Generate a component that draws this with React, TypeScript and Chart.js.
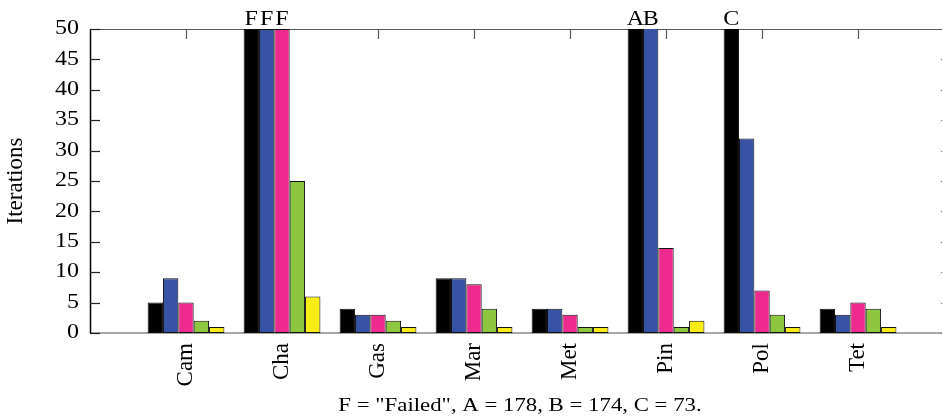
import React, { useEffect, useRef } from 'react';
import { Chart, registerables } from 'chart.js';

Chart.register(...registerables);

const categories = ['Cam', 'Cha', 'Gas', 'Mar', 'Met', 'Pin', 'Pol', 'Tet'];
const yTickValues = [0, 5, 10, 15, 20, 25, 30, 35, 40, 45, 50];

// 50 = "Failed" (drawn to the top of the axis and marked F)
const seriesBlack = [5, 50, 4, 9, 4, 178, 73, 4];
const seriesBlue = [9, 50, 3, 9, 4, 174, 32, 3];
const seriesPink = [5, 50, 3, 8, 3, 14, 7, 5];
const seriesGreen = [2, 25, 2, 4, 1, 1, 3, 4];
const seriesYellow = [1, 6, 1, 1, 1, 2, 1, 1];

const noteBlack = ['', 'F', '', '', '', 'A', 'C', ''];
const noteBlue = ['', 'F', '', '', '', 'B', '', ''];
const notePink = ['', 'F', '', '', '', '', '', ''];
const noteGreen = ['', '', '', '', '', '', '', ''];
const noteYellow = ['', '', '', '', '', '', '', ''];

const seriesColors = ['#000000', '#3953a4', '#ee2a8f', '#8dc63f', '#f7ec13'];
const yTitle = 'Iterations';
const footnote = 'F = "Failed", A = 178, B = 174, C = 73.';

const FONT = "'Liberation Serif', 'Times New Roman', serif";
const TEXT_STRETCH = 1.2;

const framePlugin = {
  id: 'frame',
  beforeDatasetsDraw(chart: any) {
    const { ctx, chartArea, scales } = chart;
    const { left, right, top, bottom } = chartArea;
    const x = scales.x;
    const y = scales.y;
    const seg = (x1: number, y1: number, x2: number, y2: number) => {
      ctx.beginPath();
      ctx.moveTo(x1, y1);
      ctx.lineTo(x2, y2);
      ctx.stroke();
    };
    ctx.save();
    ctx.lineWidth = 1.5;
    ctx.strokeStyle = '#8a8a8a';
    seg(left, bottom, right, bottom);
    ctx.strokeStyle = '#555555';
    ctx.lineWidth = 1.2;
    seg(left, top + 0.5, right, top + 0.5);
    ctx.strokeStyle = '#000000';
    ctx.lineWidth = 1.5;
    seg(left + 0.5, top, left + 0.5, bottom);
    seg(right - 0.5, top, right - 0.5, bottom);
    ctx.lineWidth = 1.2;
    yTickValues.forEach((v) => {
      const py = Math.round(y.getPixelForValue(v)) + 0.5;
      ctx.strokeStyle = '#222222';
      seg(left, py, left + 10, py);
      ctx.strokeStyle = '#666666';
      seg(right - 9, py, right, py);
    });
    ctx.strokeStyle = '#555555';
    categories.forEach((_, i) => {
      const px = Math.round(x.getPixelForValue(i)) + 0.5;
      seg(px, top, px, top + 10);
    });
    ctx.restore();
  },
  afterDatasetsDraw(chart: any) {
    const { ctx, chartArea } = chart;
    const notes = [noteBlack, noteBlue, notePink, noteGreen, noteYellow];
    ctx.save();
    ctx.font = `20px ${FONT}`;
    ctx.fillStyle = '#000000';
    ctx.textAlign = 'center';
    ctx.textBaseline = 'alphabetic';
    notes.forEach((arr, d) => {
      const meta = chart.getDatasetMeta(d);
      arr.forEach((t, i) => {
        if (!t) return;
        const el = meta.data[i];
        ctx.fillText(t, el.x, chartArea.top - 4);
      });
    });
    ctx.restore();
  },
};

export default function App() {
  const ref = useRef<HTMLCanvasElement | null>(null);

  useEffect(() => {
    const canvas = ref.current;
    if (!canvas) return;
    const ctx2d = canvas.getContext('2d') as any;
    const origFillText = ctx2d.fillText;
    // horizontal (unrotated) text is drawn slightly widened, as in the reference
    ctx2d.fillText = function (text: string, x: number, y: number, maxWidth?: number) {
      const m = this.getTransform();
      if (Math.abs(m.b) < 1e-6 && Math.abs(m.c) < 1e-6) {
        this.save();
        this.translate(x, y);
        this.scale(TEXT_STRETCH, 1);
        if (maxWidth === undefined) origFillText.call(this, text, 0, 0);
        else origFillText.call(this, text, 0, 0, maxWidth / TEXT_STRETCH);
        this.restore();
      } else if (maxWidth === undefined) {
        origFillText.call(this, text, x, y);
      } else {
        origFillText.call(this, text, x, y, maxWidth);
      }
    };

    const series = [seriesBlack, seriesBlue, seriesPink, seriesGreen, seriesYellow];
    const chart = new Chart(canvas, {
      type: 'bar',
      data: {
        datasets: series.map((s, d) => ({
          label: `s${d}`,
          data: s.map((v, i) => ({ x: i, y: v })),
          backgroundColor: seriesColors[d],
          borderColor: '#111111',
          borderWidth: 1,
          borderSkipped: false,
          categoryPercentage: 0.8,
          barPercentage: 1,
          clip: 0,
        })),
      },
      options: {
        animation: false,
        responsive: true,
        maintainAspectRatio: false,
        layout: { padding: { top: 29, left: 0, right: 0, bottom: 0 } },
        plugins: { legend: { display: false }, tooltip: { enabled: false } },
        scales: {
          x: {
            type: 'linear',
            min: -1,
            max: 7.958,
            offset: false,
            grid: { display: false, drawTicks: false, offset: false },
            border: { display: false },
            afterBuildTicks: (scale: any) => {
              scale.ticks = categories.map((_, i) => ({ value: i }));
            },
            afterFit: (scale: any) => {
              scale.height = 83;
            },
            ticks: {
              autoSkip: false,
              minRotation: 90,
              maxRotation: 90,
              padding: 10,
              color: '#000000',
              font: { family: FONT, size: 23 },
              callback: (v: any) => categories[v as number] ?? '',
            },
            title: {
              display: true,
              text: footnote,
              color: '#000000',
              font: { family: FONT, size: 19, lineHeight: 1 },
              padding: { top: 1, bottom: 0 },
            },
          },
          y: {
            min: 0,
            max: 50,
            grid: { display: false, drawTicks: false },
            border: { display: false },
            afterFit: (scale: any) => {
              scale.width = 90;
            },
            ticks: {
              stepSize: 5,
              padding: 11,
              color: '#000000',
              font: { family: FONT, size: 20 },
            },
            title: {
              display: true,
              text: yTitle,
              color: '#000000',
              font: { family: FONT, size: 23, lineHeight: 1 },
              padding: { top: 4, bottom: 0 },
            },
          },
        },
      },
      plugins: [framePlugin],
    });
    return () => {
      chart.destroy();
      ctx2d.fillText = origFillText;
    };
  }, []);

  return (
    <div style={{ position: 'absolute', left: 0, top: 0, width: 942, height: 416, overflow: 'hidden' }}>
      <div style={{ position: 'relative', width: 950, height: 416 }}>
        <canvas ref={ref} />
      </div>
    </div>
  );
}
